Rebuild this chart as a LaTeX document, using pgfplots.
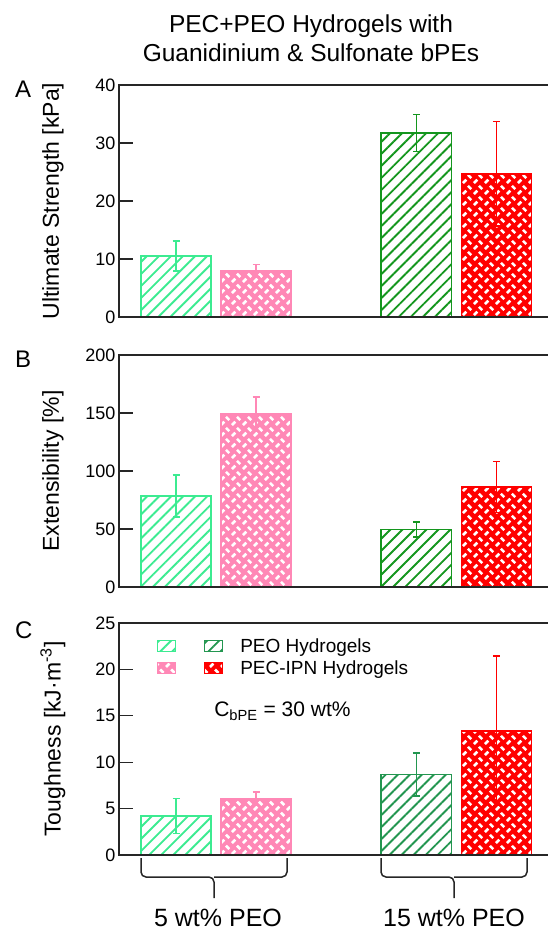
\documentclass[border=0pt]{standalone}
\usepackage{fontspec}
\setmainfont{Liberation Sans}
\usepackage{pgfplots}
\pgfplotsset{compat=1.18}
\usetikzlibrary{patterns,patterns.meta}

\definecolor{lgreen}{RGB}{60,235,145}
\definecolor{pinkc}{RGB}{255,136,182}
\definecolor{dgreen}{RGB}{20,150,30}
\definecolor{dgreenC}{RGB}{35,150,80}
\definecolor{redc}{RGB}{255,0,0}

\tikzdeclarepattern{
  name=weave,
  type=uncolored,
  bottom left={(0pt,0pt)},
  top right={(11pt,11pt)},
  tile size={(11pt,11pt)},
  code={
    \tikzset{x=1pt,y=1pt}
    \draw[line width=2.8pt, line cap=butt] (1.05,1.05) -- (4.6,4.6);
    \draw[line width=2.8pt, line cap=butt] (6.4,9.95) -- (9.95,6.4);
  }
}

\pgfplotsset{
  errb/.style={
    error bars/y dir=both, error bars/y explicit,
    error bars/error bar style={line width=1.4pt, #1},
    error bars/error mark options={rotate=90, mark size=3.5pt, line width=1.4pt, #1}},
  hatch/.style={ybar, bar width=0.875, bar shift=0pt, line width=1.8pt, draw=#1,
    pattern={Lines[angle=45,distance=8.5pt,line width=1.9pt]}, pattern color=#1, errb=#1},
  weavebar/.style={ybar, bar width=0.875, bar shift=0pt, line width=1.8pt, draw=#1, fill=#1,
    postaction={pattern=weave, pattern color=white}, errb=#1},
  panel/.style={
    scale only axis, width=429pt, height=232pt, anchor=south west,
    xmin=0.2875, xmax=5.65, ymin=0,
    axis line style={draw=none},
    clip=false,
    xtick=\empty,
    ytick pos=left, tick align=inside, major tick length=14pt,
    ytick style={line width=1.3pt, black!85},
    yticklabel style={font=\fontsize{18}{20}\selectfont},
    /pgf/number format/assume math mode=true,
    every axis y label/.style={at={(axis description cs:-0.154,0.5)}, rotate=90, anchor=center,
      font=\fontsize{23}{26}\selectfont},
  },
}
\newcommand{\frameaxis}{\draw[line width=1.5pt, black!85, line join=miter] (rel axis cs:1,1) -- (rel axis cs:0,1) -- (rel axis cs:0,0) -- (rel axis cs:1,0);}

\begin{document}
\begin{tikzpicture}
\useasboundingbox (0pt,0pt) rectangle (548pt,-932pt);

% Title
\node[anchor=base, font=\fontsize{24.5}{28}\selectfont] at (311pt,-32pt) {PEC+PEO Hydrogels with};
\node[anchor=base, font=\fontsize{24.5}{28}\selectfont] at (311pt,-61pt) {Guanidinium \& Sulfonate bPEs};

% Panel letters
\node[anchor=base west, inner sep=0pt, font=\fontsize{24}{28}\selectfont] at (15pt,-97pt) {A};
\node[anchor=base west, inner sep=0pt, font=\fontsize{24}{28}\selectfont] at (15pt,-367pt) {B};
\node[anchor=base west, inner sep=0pt, font=\fontsize{24}{28}\selectfont] at (15pt,-638pt) {C};

% Panel A
\begin{axis}[panel, at={(119pt,-317pt)}, ymax=40, ytick={0,10,20,30,40},
  ylabel={Ultimate Strength [kPa]}]
\addplot[hatch=lgreen] coordinates {(1,10.5) +- (0,2.6)};
\addplot[weavebar=pinkc] coordinates {(2,8.0) +- (0,1.1)};
\addplot[hatch=dgreen] coordinates {(4,31.7) +- (0,3.2)};
\addplot[weavebar=redc] coordinates {(5,24.7) +- (0,9.0)};
\frameaxis
\end{axis}

% Panel B
\begin{axis}[panel, at={(119pt,-587pt)}, ymax=200, ytick={0,50,100,150,200},
  ylabel={Extensibility [\%]}]
\addplot[hatch=lgreen] coordinates {(1,78.4) +- (0,18)};
\addplot[weavebar=pinkc] coordinates {(2,148.9) +- (0,15)};
\addplot[hatch=dgreen] coordinates {(4,49.5) +- (0,6.5)};
\addplot[weavebar=redc] coordinates {(5,86.2) +- (0,22)};
\frameaxis
\end{axis}

% Panel C
\begin{axis}[panel, at={(119pt,-855pt)}, ymax=25, ytick={0,5,10,15,20,25},
  ylabel={Toughness [kJ·m\textsuperscript{-3}]},
  legend columns=2,
  legend cell align=left,
  legend style={at={(0.0886,0.931)}, anchor=north west, draw=none, fill=none,
    inner sep=0pt, font=\fontsize{19}{22}\selectfont,
    nodes={inner sep=0pt, text height=13pt, text depth=4pt, anchor=base west},
    row sep=5pt,
    /tikz/every odd column/.style={column sep=17pt},
    /tikz/every even column/.style={column sep=10pt}},
  legend image code/.code={\draw[#1, line width=1pt] (0pt,1pt) rectangle (18pt,12pt);}]
\addplot[hatch=lgreen] coordinates {(1,4.2) +- (0,1.9)};
\addlegendentry{}
\addplot[hatch=dgreenC] coordinates {(4,8.68) +- (0,2.3)};
\addlegendentry{PEO Hydrogels}
\addplot[weavebar=pinkc] coordinates {(2,6.06) +- (0,0.75)};
\addlegendentry{}
\addplot[weavebar=redc] coordinates {(5,13.4) +- (0,8.05)};
\addlegendentry{PEC-IPN Hydrogels}
\frameaxis
\node[anchor=base west, inner sep=0pt, font=\fontsize{21}{24}\selectfont] at (axis description cs:0.2214,0.596) {C\textsubscript{bPE} = 30 wt\%};
\end{axis}

% Braces
\draw[line width=1.5pt, black!85, rounded corners=5pt] (141pt,-858pt) -- (141pt,-877pt) -- (214pt,-877pt) -- (214pt,-898pt);
\draw[line width=1.5pt, black!85, rounded corners=5pt] (287pt,-858pt) -- (287pt,-877pt) -- (214pt,-877pt);
\draw[line width=1.5pt, black!85, rounded corners=5pt] (381pt,-858pt) -- (381pt,-877pt) -- (454pt,-877pt) -- (454pt,-898pt);
\draw[line width=1.5pt, black!85, rounded corners=5pt] (527pt,-858pt) -- (527pt,-877pt) -- (454pt,-877pt);

\node[anchor=base, font=\fontsize{25}{28}\selectfont] at (218pt,-926pt) {5 wt\% PEO};
\node[anchor=base, font=\fontsize{25}{28}\selectfont] at (454pt,-926pt) {15 wt\% PEO};
\end{tikzpicture}
\end{document}
